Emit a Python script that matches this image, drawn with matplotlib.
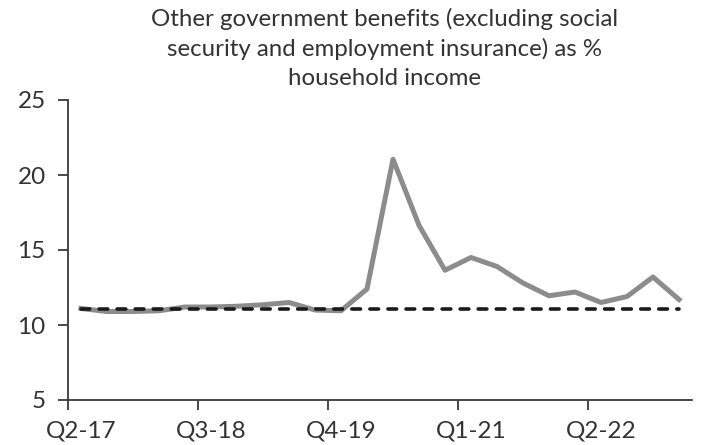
import matplotlib
matplotlib.use("Agg")
import matplotlib.pyplot as plt
import numpy as np

# quarterly series, Q2-17 .. Q1-23
quarters = ["Q2-17", "Q3-17", "Q4-17", "Q1-18", "Q2-18", "Q3-18", "Q4-18", "Q1-19",
            "Q2-19", "Q3-19", "Q4-19", "Q1-20", "Q2-20", "Q3-20", "Q4-20", "Q1-21",
            "Q2-21", "Q3-21", "Q4-21", "Q1-22", "Q2-22", "Q3-22", "Q4-22", "Q1-23"]
benefits = [11.1, 10.9, 10.9, 10.95, 11.2, 11.2, 11.25, 11.35,
            11.5, 11.0, 10.95, 12.4, 21.05, 16.65, 13.65, 14.5,
            13.9, 12.8, 11.95, 12.2, 11.5, 11.9, 13.2, 11.7]
average = 11.1
label_every = 5

plt.rcParams['font.family'] = ['Lato', 'DejaVu Sans']

fig = plt.figure(figsize=(7.02, 4.45), dpi=100)
ax = fig.add_axes([68 / 702, 45 / 445, 624 / 702, 300 / 445])

x = np.arange(len(quarters))
ax.plot(x, benefits, color="#8c8c8c", lw=3.6, solid_joinstyle="round", zorder=2)
ax.plot(x, [average] * len(x), color="#1a1a1a", lw=2.6, dashes=(2.4, 2.6),
        dash_capstyle="round", zorder=3)

ax.set_xlim(-0.5, len(quarters) - 0.5)
ax.set_ylim(5, 25)
ax.set_yticks([5, 10, 15, 20, 25])

# tick marks between categories, labels centred on categories
ax.set_xticks(np.arange(-0.5, len(quarters), label_every))
ax.set_xticklabels([])
ax.set_xticks(x[::label_every], minor=True)
ax.set_xticklabels(quarters[::label_every], minor=True)

spine_c = "#3a3a3a"
for s in ["top", "right"]:
    ax.spines[s].set_visible(False)
for s in ["left", "bottom"]:
    ax.spines[s].set_color(spine_c)
    ax.spines[s].set_linewidth(1.3)
ax.tick_params(axis="both", which="major", length=7, width=1.3, color=spine_c,
               labelsize=17.5, labelcolor="#333333")
ax.tick_params(axis="x", which="minor", length=0, pad=15, labelsize=17.5,
               labelcolor="#333333")
ax.tick_params(axis="y", pad=9)

fig.text(0.548, 0.982, "Other government benefits (excluding social\n"
         "security and employment insurance) as %\nhousehold income",
         ha="center", va="top", fontsize=17.3, color="#333333",
         linespacing=1.45)

fig.savefig("out.png", dpi=100)
